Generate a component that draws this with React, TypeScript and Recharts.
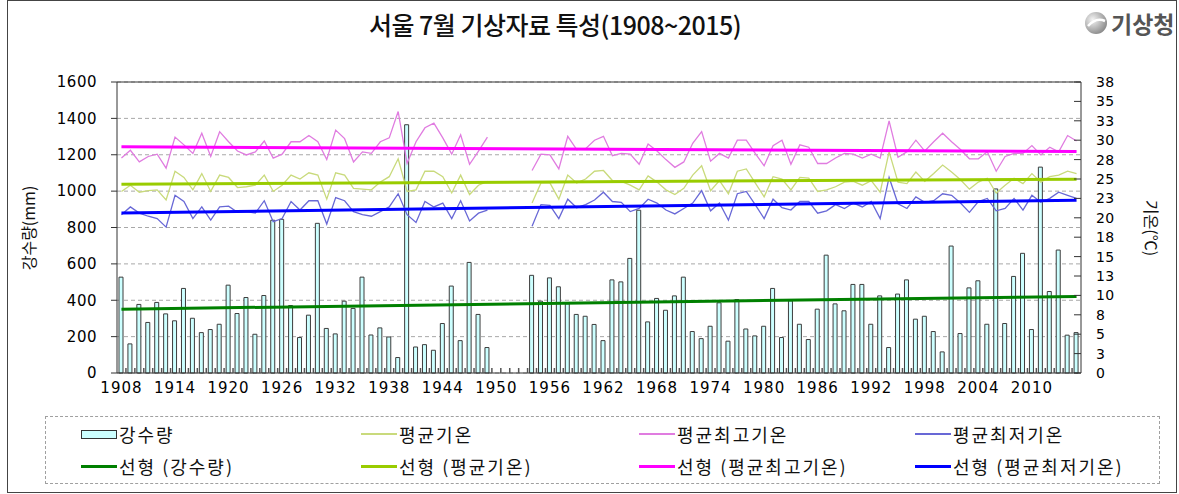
import React from 'react'
import { ComposedChart, Bar, Line, XAxis, YAxis, CartesianGrid, ReferenceLine } from 'recharts'

// 1908 ~ 2015, 1950~1953 비어 있음 (전쟁 기간)
const years = Array.from({ length: 108 }, (_, i) => 1908 + i)

const precip = [
  527, 160, 377, 278, 388, 325, 287, 465, 301, 222,
  239, 268, 483, 327, 415, 213, 426, 840, 845, 371,
  195, 318, 823, 245, 215, 395, 355, 527, 209, 248,
  198, 85, 1365, 143, 156, 125, 272, 478, 178, 608,
  322, 140, null, null, null, null, 537, 395, 523, 474,
  380, 322, 312, 267, 178, 512, 501, 630, 895, 281,
  410, 345, 424, 527, 228, 189, 257, 386, 175, 404,
  242, 204, 257, 465, 195, 397, 268, 184, 351, 648,
  380, 342, 487, 487, 268, 424, 140, 434, 512, 296,
  312, 228, 116, 698, 217, 468, 507, 268, 1012, 272,
  531, 658, 239, 1132, 448, 676, 208, 222,
]

const meanTemp = [
  23.4, 24.2, 23.3, 23.5, 23.6, 22.3, 26.0, 25.2, 23.6, 25.7,
  23.4, 25.5, 25.2, 23.9, 24.0, 24.2, 25.5, 23.4, 24.2, 25.5,
  25.0, 25.8, 25.5, 22.4, 25.8, 25.5, 23.8, 23.7, 23.6, 24.6,
  25.3, 27.6, 23.4, 23.6, 26.0, 26.0, 25.3, 23.2, 25.5, 23.0,
  24.2, 24.7, null, null, null, null, 21.9, 24.5, 24.5, 22.4,
  25.5, 24.5, 25.0, 26.0, 26.1, 24.8, 24.7, 24.2, 23.6, 25.4,
  24.6, 23.6, 23.0, 23.8, 25.5, 26.7, 23.5, 24.8, 23.1, 26.0,
  26.3, 24.5, 22.7, 25.3, 25.0, 23.6, 25.2, 25.1, 23.4, 23.6,
  24.0, 24.6, 24.7, 24.2, 24.8, 23.3, 28.5, 24.6, 24.4, 25.9,
  24.7, 25.7, 26.8, 25.9, 24.9, 23.7, 24.6, 25.1, 23.2, 24.2,
  25.1, 24.4, 25.7, 24.6, 25.3, 25.5, 26.0, 25.7,
]

const maxTemp = [
  27.7, 28.7, 27.2, 27.9, 28.2, 26.4, 30.4, 29.4, 28.3, 30.9,
  27.9, 31.1, 29.8, 28.6, 28.1, 28.5, 29.9, 27.7, 28.2, 29.8,
  29.8, 30.6, 29.8, 27.5, 31.3, 30.2, 27.2, 28.5, 28.3, 29.8,
  30.3, 33.7, 27.0, 29.8, 31.6, 32.2, 30.3, 28.2, 30.7, 26.9,
  28.6, 30.4, null, null, null, null, 26.1, 28.2, 28.1, 26.3,
  30.5, 28.8, 28.9, 30.0, 30.5, 28.0, 28.3, 28.2, 26.9, 29.5,
  28.6, 27.5, 26.5, 27.2, 29.6, 31.1, 27.3, 28.3, 27.7, 30.0,
  30.0, 28.3, 26.7, 29.3, 30.0, 26.9, 29.4, 29.1, 27.0, 27.0,
  27.7, 28.3, 28.2, 27.7, 28.2, 27.7, 32.5, 27.8, 28.5, 30.0,
  28.6, 29.8, 30.9, 29.8, 28.8, 27.6, 27.6, 28.5, 26.0, 27.9,
  28.3, 28.3, 29.3, 28.1, 29.1, 28.5, 30.6, 29.9,
]

const minTemp = [
  20.4, 21.4, 20.6, 20.2, 19.9, 18.8, 22.9, 22.1, 19.9, 21.4,
  19.7, 21.4, 21.5, 20.7, 20.8, 20.6, 22.2, 19.5, 19.9, 22.1,
  21.0, 22.2, 22.2, 19.2, 22.6, 22.2, 20.8, 20.4, 20.2, 20.8,
  21.4, 23.1, 20.4, 19.4, 22.1, 21.4, 21.9, 19.9, 22.2, 19.6,
  20.6, 21.0, null, null, null, null, 18.9, 21.7, 21.6, 19.9,
  22.4, 21.3, 21.7, 22.3, 23.3, 22.1, 22.0, 20.8, 21.2, 22.4,
  21.9, 21.0, 20.5, 21.2, 21.9, 23.5, 20.9, 21.9, 19.7, 23.1,
  23.4, 21.7, 19.9, 22.4, 21.3, 21.0, 22.1, 22.1, 20.6, 20.9,
  21.7, 21.2, 21.9, 21.4, 22.1, 19.9, 25.2, 21.8, 21.2, 22.7,
  22.0, 22.2, 23.1, 22.9, 21.9, 20.7, 22.1, 22.5, 20.9, 21.2,
  22.5, 21.0, 22.9, 22.0, 22.5, 23.3, 22.9, 22.5,
]

// 선형 추세선 양 끝 값 (1908, 2015)
const trendPrecip = [351, 421]
const trendMean = [24.33, 24.97]
const trendMax = [29.15, 28.54]
const trendMin = [20.62, 22.26]

const leftTicks = [0, 200, 400, 600, 800, 1000, 1200, 1400, 1600]
const rightTicks = [0, 2.5, 5, 7.5, 10, 12.5, 15, 17.5, 20, 22.5, 25, 27.5, 30, 32.5, 35, 37.5]

const data = years.map((year, i) => ({
  year,
  precip: precip[i],
  mean: meanTemp[i],
  max: maxTemp[i],
  min: minTemp[i],
}))

const W = 1179
const H = 494
const M = { top: 82, right: 58, bottom: 91, left: 57 }
const LEFT_W = 60
const RIGHT_W = 40
const plotW = W - M.left - M.right - LEFT_W - RIGHT_W
const band = plotW / years.length

const C = {
  bar: '#ccffff',
  barEdge: '#3c3c3c',
  mean: '#c9da7c',
  max: '#e07ce0',
  min: '#6868d6',
  tPrecip: '#008000',
  tMean: '#99cc00',
  tMax: '#ff00ff',
  tMin: '#0000ff',
}

const tickFont = { fontFamily: 'DejaVu Sans', fill: '#000' }
const krFont = '"Noto Sans CJK KR", sans-serif'

function YearTick(props: any) {
  const { x, y, payload } = props
  const yr = payload.value as number
  const bx = x - band / 2
  return (
    <g>
      {yr !== years[0] && <line x1={bx} x2={bx} y1={y - 5} y2={y} stroke="#555" strokeWidth={1.5} />}
      {(yr - years[0]) % 6 === 0 && (
        <text x={x} y={y + 20} textAnchor="middle" fontSize={15} letterSpacing={1} {...tickFont}>
          {yr}
        </text>
      )}
    </g>
  )
}

const legendRows = [
  [
    { label: '강수량', color: C.bar, kind: 'bar' },
    { label: '평균기온', color: C.mean, kind: 'thin' },
    { label: '평균최고기온', color: C.max, kind: 'thin' },
    { label: '평균최저기온', color: C.min, kind: 'thin' },
  ],
  [
    { label: '선형 (강수량)', color: C.tPrecip, kind: 'thick' },
    { label: '선형 (평균기온)', color: C.tMean, kind: 'thick' },
    { label: '선형 (평균최고기온)', color: C.tMax, kind: 'thick' },
    { label: '선형 (평균최저기온)', color: C.tMin, kind: 'thick' },
  ],
]
const legendCols = [35, 315, 593, 869]

function LegendBox() {
  return (
    <div
      style={{
        position: 'absolute', left: 45, top: 416, width: 1115, height: 68,
        border: '1px dashed #a0a0a0', boxSizing: 'border-box',
      }}
    >
      {legendRows.map((row, r) =>
        row.map((it, c) => (
          <div
            key={`${r}-${c}`}
            style={{
              position: 'absolute', left: legendCols[c], top: 4 + r * 32, height: 26,
              display: 'flex', alignItems: 'center', whiteSpace: 'nowrap',
            }}
          >
            {it.kind === 'bar' ? (
              <span style={{ width: 34, height: 7, background: it.color, border: '1px solid #333', marginRight: 2 }} />
            ) : (
              <span style={{ width: 36, height: it.kind === 'thick' ? 3 : 1.5, background: it.color, marginRight: 2 }} />
            )}
            <span style={{ fontFamily: krFont, fontSize: 18, letterSpacing: 2, color: '#111' }}>{it.label}</span>
          </div>
        ))
      )}
    </div>
  )
}

export default function App() {
  return (
    <div style={{ position: 'absolute', left: 0, top: 0, width: W, height: H, background: '#fff', overflow: 'hidden' }}>
      <ComposedChart width={W} height={H} data={data} margin={M}>
        <CartesianGrid yAxisId="left" vertical={false} stroke="#a8a8a8" strokeDasharray="4 3" />
        <XAxis
          dataKey="year"
          interval={0}
          tickLine={false}
          tickSize={0}
          tickMargin={0}
          tick={<YearTick />}
          height={30}
          axisLine={{ stroke: '#333' }}
        />
        <YAxis
          yAxisId="left"
          width={LEFT_W}
          domain={[0, 1600]}
          ticks={leftTicks}
          interval={0}
          tick={{ ...tickFont, fontSize: 15, letterSpacing: 0.5 }}
          tickSize={6}
          tickMargin={14}
          tickLine={{ stroke: '#333' }}
          axisLine={{ stroke: '#333' }}
        />
        <YAxis
          yAxisId="right"
          orientation="right"
          width={RIGHT_W}
          domain={[0, 37.5]}
          ticks={rightTicks}
          interval={0}
          tickFormatter={(v: number) => String(Math.round(v))}
          tick={{ ...tickFont, fontSize: 14, letterSpacing: 0.3 }}
          tickSize={-7}
          tickMargin={22}
          tickLine={{ stroke: '#333' }}
          axisLine={{ stroke: '#333' }}
        />
        <ReferenceLine yAxisId="left" y={1600} stroke="#333" />
        <Bar
          yAxisId="left"
          dataKey="precip"
          fill={C.bar}
          stroke={C.barEdge}
          strokeWidth={1}
          barSize={4}
          isAnimationActive={false}
        />
        <Line yAxisId="right" dataKey="max" stroke={C.max} strokeWidth={1.3} dot={false} isAnimationActive={false} />
        <Line yAxisId="right" dataKey="mean" stroke={C.mean} strokeWidth={1.3} dot={false} isAnimationActive={false} />
        <Line yAxisId="right" dataKey="min" stroke={C.min} strokeWidth={1.3} dot={false} isAnimationActive={false} />
        <ReferenceLine
          yAxisId="left"
          segment={[{ x: years[0], y: trendPrecip[0] }, { x: years[years.length - 1], y: trendPrecip[1] }]}
          stroke={C.tPrecip}
          strokeWidth={3}
        />
        <ReferenceLine
          yAxisId="right"
          segment={[{ x: years[0], y: trendMean[0] }, { x: years[years.length - 1], y: trendMean[1] }]}
          stroke={C.tMean}
          strokeWidth={3}
        />
        <ReferenceLine
          yAxisId="right"
          segment={[{ x: years[0], y: trendMax[0] }, { x: years[years.length - 1], y: trendMax[1] }]}
          stroke={C.tMax}
          strokeWidth={3}
        />
        <ReferenceLine
          yAxisId="right"
          segment={[{ x: years[0], y: trendMin[0] }, { x: years[years.length - 1], y: trendMin[1] }]}
          stroke={C.tMin}
          strokeWidth={3}
        />
      </ComposedChart>

      {/* 제목 */}
      <div
        style={{
          position: 'absolute', left: 0, width: 1110, top: 6, textAlign: 'center',
          fontFamily: krFont, fontSize: 25, fontWeight: 500, color: '#111', letterSpacing: -0.5,
        }}
      >
        서울 7월 기상자료 특성(1908~2015)
      </div>

      {/* 로고 */}
      <div style={{ position: 'absolute', left: 1084, top: 6, display: 'flex', alignItems: 'center' }}>
        <svg width={24} height={24}>
          <defs>
            <radialGradient id="lg" cx="35%" cy="35%" r="70%">
              <stop offset="0%" stopColor="#f4f4f4" />
              <stop offset="100%" stopColor="#8a8a8a" />
            </radialGradient>
          </defs>
          <circle cx={12} cy={12} r={11} fill="url(#lg)" />
          <path d="M4 15 Q12 6 21 10" stroke="#fff" strokeWidth={2.5} fill="none" />
        </svg>
        <span style={{ fontFamily: krFont, fontSize: 23, fontWeight: 700, color: '#555', marginLeft: 3 }}>기상청</span>
      </div>

      {/* 축 제목 */}
      <div
        style={{
          position: 'absolute', left: 28, top: 228, transform: 'translate(-50%, -50%) rotate(-90deg)',
          fontFamily: krFont, fontSize: 16, whiteSpace: 'nowrap', color: '#111',
        }}
      >
        강수량(mm)
      </div>
      <div
        style={{
          position: 'absolute', left: 1152, top: 228, transform: 'translate(-50%, -50%) rotate(90deg)',
          fontFamily: krFont, fontSize: 16, whiteSpace: 'nowrap', color: '#111',
        }}
      >
        기온(℃)
      </div>

      <LegendBox />

      {/* 바깥 테두리 */}
      <div
        style={{
          position: 'absolute', left: 7, top: 0, width: 1170, height: 493,
          border: '1px solid #444', boxSizing: 'border-box', pointerEvents: 'none',
        }}
      />
    </div>
  )
}
